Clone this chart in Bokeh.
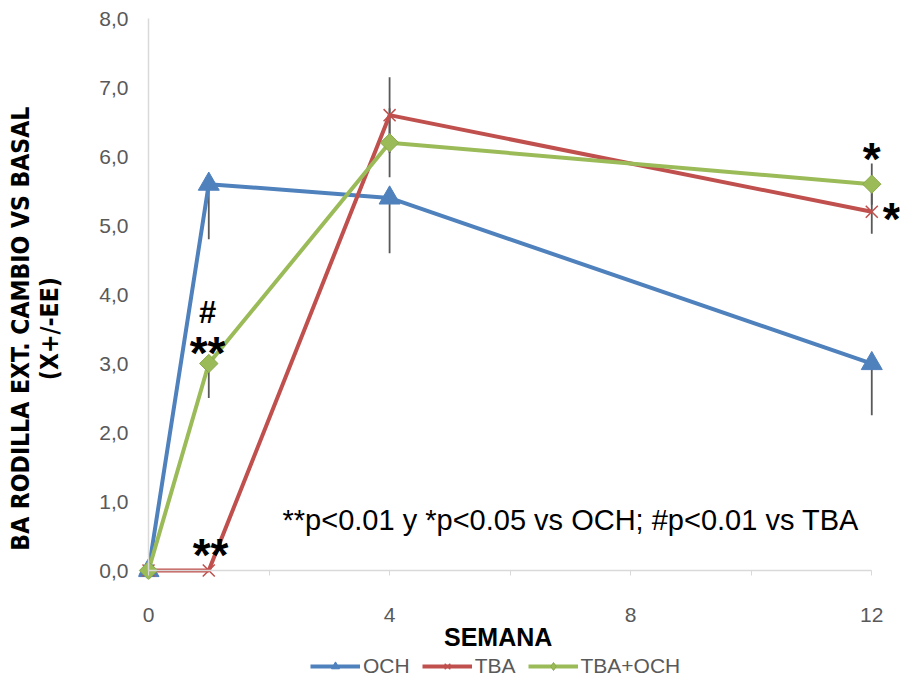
import math
from bokeh.plotting import figure
from bokeh.models import Range1d, FixedTicker, Label, Legend, LegendItem, LinearAxis
from bokeh.layouts import column
from bokeh.embed import file_html
from bokeh.resources import INLINE

# ---- data ----
weeks = [0, 1, 4, 12]
och = [0.0, 5.6, 5.4, 3.0]
tba = [0.0, 0.0, 6.6, 5.2]
tba_och = [0.0, 3.0, 6.2, 5.6]

och_err_minus = [0.0, 0.8, 0.8, 0.75]
och_err_plus = [0.0, 0.0, 0.0, 0.0]
tba_err_minus = [0.0, 0.0, 0.55, 0.32]
tba_err_plus = [0.0, 0.0, 0.55, 0.32]
tba_och_err_minus = [0.0, 0.5, 0.5, 0.3]
tba_och_err_plus = [0.0, 0.0, 0.5, 0.3]

series_names = ["OCH", "TBA", "TBA+OCH"]
x_ticks = [0, 4, 8, 12]
x_tick_marks = [0, 2, 4, 6, 8, 10, 12]
y_ticks = [0, 1, 2, 3, 4, 5, 6, 7, 8]
y_tick_labels = ["0,0", "1,0", "2,0", "3,0", "4,0", "5,0", "6,0", "7,0", "8,0"]

x_title = "SEMANA"
y_title_1 = "BA RODILLA EXT. CAMBIO VS BASAL"
y_title_2 = "(X+/-EE)"
note = "**p<0.01 y *p<0.05 vs OCH; #p<0.01 vs TBA"

BLUE = "#4F81BD"
RED = "#C0504D"
GREEN = "#9BBB59"
GRAY = "#595959"
AXIS = "#D9D9D9"
FONT = "Liberation Sans"
NARROW = "'DejaVu Sans Condensed', sans-serif"
NB = "\u00a0"

p = figure(width=900, height=654, output_backend="svg", toolbar_location=None,
           x_range=Range1d(-0.166, 12.46), y_range=Range1d(-0.13, 8.03),
           min_border_left=138, min_border_right=1, min_border_top=16,
           min_border_bottom=75)
p.outline_line_color = None
p.xgrid.visible = False
p.ygrid.visible = False

# tick-label axes in the side panels
xa = p.xaxis[0]
xa.ticker = FixedTicker(ticks=x_ticks, minor_ticks=[])
xa.axis_line_color = None
xa.major_tick_line_color = None
xa.minor_tick_line_color = None
xa.major_tick_in = 0
xa.major_tick_out = 0
xa.major_label_standoff = 28
xa.major_label_text_font = FONT
xa.major_label_text_font_size = "21px"
xa.major_label_text_color = GRAY
xa.axis_label = x_title + NB * 6
xa.axis_label_standoff = -2
xa.axis_label_text_font = FONT
xa.axis_label_text_font_style = "bold"
xa.axis_label_text_font_size = "25px"
xa.axis_label_text_color = "black"

ya = p.yaxis[0]
ya.ticker = FixedTicker(ticks=y_ticks, minor_ticks=[])
ya.major_label_overrides = {t: l for t, l in zip(y_ticks, y_tick_labels)}
ya.axis_line_color = None
ya.major_tick_line_color = None
ya.minor_tick_line_color = None
ya.major_tick_in = 0
ya.major_tick_out = 0
ya.major_label_standoff = 10
ya.major_label_text_font = FONT
ya.major_label_text_font_size = "21px"
ya.major_label_text_color = GRAY
ya.axis_label = y_title_2 + NB * 8
ya.axis_label_standoff = 32
ya.axis_label_text_font = NARROW
ya.axis_label_text_font_style = "bold"
ya.axis_label_text_font_size = "24.5px"
ya.axis_label_text_color = "black"

# outer axis carrying the first line of the y title
y_title_axis = LinearAxis(ticker=FixedTicker(ticks=[], minor_ticks=[]),
                          axis_line_color=None, major_tick_line_color=None,
                          minor_tick_line_color=None, major_tick_in=0,
                          major_tick_out=0, major_label_standoff=0,
                          axis_label=y_title_1 + NB * 8, axis_label_standoff=-2,
                          axis_label_text_font=NARROW,
                          axis_label_text_font_style="bold",
                          axis_label_text_font_size="24.5px",
                          axis_label_text_color="black")
p.add_layout(y_title_axis, "left")

# axis lines through the origin
x_line = LinearAxis(fixed_location=0, bounds=(0, 12),
                    ticker=FixedTicker(ticks=[], minor_ticks=x_tick_marks),
                    axis_line_color=AXIS, axis_line_width=1.5,
                    major_tick_line_color=None, minor_tick_line_color=AXIS,
                    major_tick_in=0, major_tick_out=0,
                    minor_tick_in=5, minor_tick_out=0, major_label_standoff=0)
p.add_layout(x_line, "above")
y_line = LinearAxis(fixed_location=0, bounds=(0, 8),
                    ticker=FixedTicker(ticks=[], minor_ticks=[]),
                    axis_line_color=AXIS, axis_line_width=1.5,
                    major_tick_line_color=None, minor_tick_line_color=None,
                    major_tick_in=0, major_tick_out=0, minor_tick_out=0,
                    major_label_standoff=0)
p.add_layout(y_line, "right")

# error bars
def err_bars(fig, vals, minus, plus):
    lo = [v - m for v, m in zip(vals, minus)]
    hi = [v + q for v, q in zip(vals, plus)]
    fig.segment(x0=weeks, y0=lo, x1=weeks, y1=hi, line_color=GRAY, line_width=1.8)

err_bars(p, och, och_err_minus, och_err_plus)
err_bars(p, tba, tba_err_minus, tba_err_plus)
err_bars(p, tba_och, tba_och_err_minus, tba_och_err_plus)

def draw_series(fig, green_marker="square", green_size=13, green_angle=math.pi / 4):
    r = []
    r.append(fig.line(weeks, och, line_color=BLUE, line_width=4))
    r.append(fig.scatter(weeks, och, marker="triangle", size=21,
                         fill_color=BLUE, line_color=BLUE))
    r.append(fig.line(weeks, tba, line_color=RED, line_width=4))
    r.append(fig.scatter(weeks, tba, marker="x", size=17, line_color=RED,
                         line_width=1.5))
    r.append(fig.line(weeks, tba_och, line_color=GREEN, line_width=4))
    r.append(fig.scatter(weeks, tba_och, marker=green_marker, size=green_size,
                         angle=green_angle, fill_color=GREEN,
                         line_color="#8AAA4A", line_width=1))
    return r

draw_series(p)

# note and significance marks
p.add_layout(Label(x=2.224, y=0.739, text=note, text_align="left",
                   text_baseline="alphabetic", text_font=FONT,
                   text_font_size="29px", text_color="black"))

def mark(txt, x, y, size="46px"):
    p.add_layout(Label(x=x, y=y, text=txt, text_align="center",
                       text_baseline="alphabetic", text_font=FONT,
                       text_font_style="bold", text_font_size=size,
                       text_color="black"))

mark("**", 1.03, 0.232)
mark("**", 0.98, 3.16)
mark("#", 0.98, 3.74, "31px")
mark("*", 12.0, 5.97)
mark("*", 12.33, 5.09)

# legend strip (same series, drawn outside its visible range)
leg = figure(width=900, height=24, output_backend="svg", toolbar_location=None,
             x_range=Range1d(100, 101), y_range=Range1d(100, 101),
             x_axis_location=None, y_axis_location=None,
             min_border_left=0, min_border_right=0, min_border_top=0,
             min_border_bottom=0)
leg.outline_line_color = None
leg.xgrid.visible = False
leg.ygrid.visible = False
rs = draw_series(leg, green_marker="diamond", green_size=16, green_angle=0.0)
legend = Legend(items=[LegendItem(label=series_names[0], renderers=[rs[0], rs[1]]),
                       LegendItem(label=series_names[1], renderers=[rs[2], rs[3]]),
                       LegendItem(label=series_names[2], renderers=[rs[4], rs[5]])],
                orientation="horizontal", location=(172, 0),
                glyph_width=50, glyph_height=20, label_standoff=3, spacing=12,
                padding=0, margin=0, border_line_alpha=0, background_fill_alpha=0,
                label_text_font=FONT, label_text_font_size="21px",
                label_text_color=GRAY)
leg.add_layout(legend)

open("out.html", "w").write(file_html(column(p, leg), INLINE))
